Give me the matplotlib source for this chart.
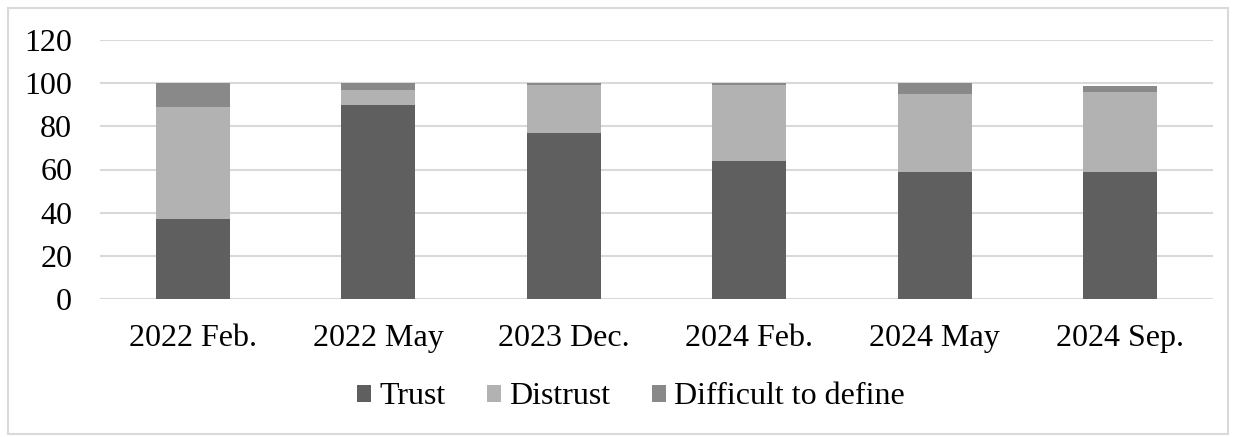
import matplotlib.pyplot as plt
from matplotlib.patches import Rectangle
import numpy as np

plt.rcParams['font.family'] = ['Liberation Serif', 'DejaVu Serif']

periods = ["2022 Feb.", "2022 May", "2023 Dec.", "2024 Feb.", "2024 May", "2024 Sep."]
trust = [37, 90, 77, 64, 59, 59]
distrust = [52, 7, 22, 35, 36, 37]
difficult = [11, 3, 1, 1, 5, 2.5]

W, H = 1235, 437
fig = plt.figure(figsize=(W / 100, H / 100), dpi=100)
ax = fig.add_axes([100 / W, 138 / H, 1113 / W, 259 / H])

# outer frame like the Excel chart area
fig.patches.append(Rectangle((8 / W, 3 / H), 1220 / W, 426 / H, transform=fig.transFigure,
                             fill=False, edgecolor="#d9d9d9", linewidth=1.5))

x = np.arange(len(periods))
w = 0.4
ax.bar(x, trust, w, color="#5f5f5f", label="Trust", zorder=3)
ax.bar(x, distrust, w, bottom=trust, color="#b2b2b2", label="Distrust", zorder=3)
bottom2 = np.array(trust) + np.array(distrust)
ax.bar(x, difficult, w, bottom=bottom2, color="#898989", label="Difficult to define", zorder=3)

ax.set_xlim(-0.5, len(periods) - 0.5)
ax.set_ylim(0, 120)
ax.set_yticks(np.arange(0, 121, 20))
ax.set_xticks(x, labels=periods)
ax.grid(axis="y", color="#d9d9d9", linewidth=1.5, zorder=0)
for s in ax.spines.values():
    s.set_visible(False)
ax.tick_params(axis="both", length=0, labelsize=23)
ax.tick_params(axis="y", pad=20)
ax.tick_params(axis="x", pad=18)

fig.legend(loc="center", bbox_to_anchor=(631 / W, 1 - 397 / H), ncol=3, frameon=False,
           fontsize=23, handlelength=0.45, handleheight=0.45, handletextpad=0.25,
           columnspacing=1.3)

fig.savefig("out.png", dpi=100)
